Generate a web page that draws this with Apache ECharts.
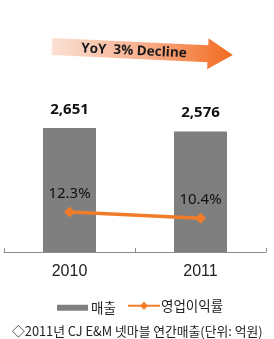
<!DOCTYPE html>
<html>
<head>
<meta charset="utf-8">
<script src="https://cdn.jsdelivr.net/npm/echarts@6/dist/echarts.min.js"></script>
<style>html,body{margin:0;padding:0;background:#fff;}#c{width:274px;height:339px;}</style>
</head>
<body>
<div id="c"></div>
<script>
var categories = ['2010', '2011'];
var salesValues = [2651, 2576];
var marginValues = [12.3, 10.4];
var seriesNames = ['매출', '영업이익률'];
var arrowText = 'YoY  3% Decline';
var footnote = '◇2011년 CJ E&M 넷마블 연간매출(단위: 억원)';

var chart = echarts.init(document.getElementById('c'), null, {renderer: 'canvas'});

// arrow decoration (rotated shape)
var ang = 0.047;
var ox = 52, oy = 46.5;
var base = [[0,-8.5],[156,-8.5],[156,-15.5],[181,0],[156,15.5],[156,8.5],[0,8.5]];
var pts = base.map(function(p){
  return [ox + p[0]*Math.cos(ang) - p[1]*Math.sin(ang), oy + p[0]*Math.sin(ang) + p[1]*Math.cos(ang)];
});

var option = {
  animation: false,
  backgroundColor: '#ffffff',
  title: {
    text: footnote,
    left: 7, top: 320,
    textStyle: {fontFamily: 'Noto Sans CJK KR', fontSize: 12.8, fontWeight: 'normal', color: '#222'}
  },
  graphic: [
    {
      type: 'polygon',
      shape: {points: pts},
      style: {
        fill: new echarts.graphic.LinearGradient(0, 0, 1, 0, [
          {offset: 0, color: '#FBE0D4'},
          {offset: 0.5, color: '#F8B08E'},
          {offset: 1, color: '#F26A1E'}
        ])
      }
    },
    {
      type: 'text',
      x: 134, y: 51,
      rotation: -ang,
      style: {
        text: arrowText,
        fontFamily: 'Open Sans', fontWeight: 'bold', fontSize: 13.5,
        fill: '#1a1a1a', align: 'center', verticalAlign: 'middle'
      }
    }
  ],
  legend: [
    {
      data: [{name: seriesNames[0], icon: 'rect'}],
      left: 52, top: 296,
      itemWidth: 31, itemHeight: 6, itemGap: 10,
      textStyle: {fontFamily: 'Noto Sans CJK KR', fontSize: 13.5, color: '#222', padding: [0,0,0,-2]}
    },
    {
      data: [seriesNames[1]],
      left: 122, top: 294,
      itemWidth: 32, itemHeight: 10, itemGap: 10,
      textStyle: {fontFamily: 'Noto Sans CJK KR', fontSize: 13.5, color: '#222', padding: [0,0,0,-4]}
    }
  ],
  grid: {left: 4, right: 8, top: 65, bottom: 87, containLabel: false},
  xAxis: {
    type: 'category',
    data: categories,
    axisLine: {lineStyle: {color: '#8c8c8c', width: 1}},
    axisTick: {show: true, inside: true, length: 4, alignWithLabel: false, lineStyle: {color: '#8c8c8c'}},
    axisLabel: {fontFamily: 'Liberation Sans', fontSize: 16, color: '#222', margin: 12}
  },
  yAxis: [
    {type: 'value', min: 0, max: 4000, show: false, splitLine: {show: false}},
    {type: 'value', min: 0, max: 57.5, show: false, splitLine: {show: false}}
  ],
  series: [
    {
      name: seriesNames[0],
      type: 'bar',
      data: salesValues,
      barWidth: 53,
      itemStyle: {color: '#7f7f7f'},
      label: {
        show: true, position: 'top', distance: 11,
        formatter: function(p){ return p.value.toLocaleString('en-US'); },
        fontFamily: 'Open Sans', fontWeight: 'bold', fontSize: 15, color: '#111'
      },
      z: 2
    },
    {
      name: seriesNames[1],
      type: 'line',
      yAxisIndex: 1,
      data: marginValues,
      symbol: 'diamond',
      symbolSize: 11,
      lineStyle: {color: '#F07C2A', width: 3.5},
      itemStyle: {color: '#F07C2A'},
      label: {
        show: true, position: 'top', distance: 5,
        formatter: function(p){ return p.value.toFixed(1) + '%'; },
        fontFamily: 'Noto Sans', fontSize: 15, color: '#111'
      },
      z: 3
    }
  ]
};
chart.setOption(option);
</script>
</body>
</html>
